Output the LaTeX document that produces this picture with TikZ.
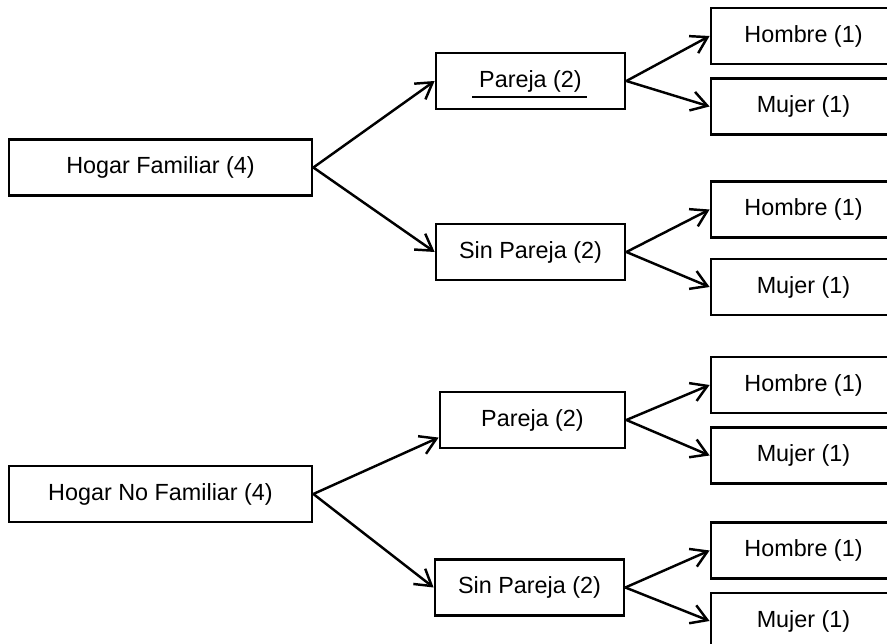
\documentclass[tikz,border=0pt]{standalone}
\usepackage{fontspec}
\setmainfont{Liberation Sans}
\usetikzlibrary{arrows.meta,calc}

\begin{document}
\begin{tikzpicture}[x=0.02cm,y=-0.02cm,
  caja/.style={draw,line width=1.6pt,inner sep=0pt,minimum height=1.12cm,font=\fontsize{13.3}{16}\selectfont},
  grande/.style={caja,minimum width=6.06cm},
  medio/.style={caja,minimum width=3.78cm},
  hoja/.style={caja,minimum width=3.70cm},
  flecha/.style={line width=1.4pt,-{Straight Barb[length=9pt,width=11pt]}}]
\clip (0,0) rectangle (887,644);

\node[grande] (hf) at (160.5,167.5) {Hogar Familiar (4)};
\node[grande] (hnf) at (160.5,494) {Hogar No Familiar (4)};

\node[medio] (pa1) at (530.5,81) {Pareja (2)};
\node[medio] (sp1) at (530.5,252) {Sin Pareja (2)};
\node[medio,minimum width=3.70cm] (pa2) at (532.5,420) {Pareja (2)};
\node[medio] (sp2) at (529.5,587.5) {Sin Pareja (2)};

\node[hoja] (h1) at (803.5,36) {Hombre (1)};
\node[hoja] (m1) at (803.5,106.5) {Mujer (1)};
\node[hoja] (h2) at (803.5,209.5) {Hombre (1)};
\node[hoja] (m2) at (803.5,287) {Mujer (1)};
\node[hoja] (h3) at (803.5,385) {Hombre (1)};
\node[hoja] (m3) at (803.5,455.5) {Mujer (1)};
\node[hoja] (h4) at (803.5,550.5) {Hombre (1)};
\node[hoja] (m4) at (803.5,621) {Mujer (1)};

\draw[line width=1pt] ($(pa1.center)+(-58.5,16)$) -- ($(pa1.center)+(56.5,16)$);

\draw[flecha] (hf.east) -- (pa1.west);
\draw[flecha] (hf.east) -- (sp1.west);
\draw[flecha] (hnf.east) -- ([yshift=-10]pa2.west);
\draw[flecha] (hnf.east) -- (sp2.west);

\draw[flecha] (pa1.east) -- (h1.west);
\draw[flecha] (pa1.east) -- (m1.west);
\draw[flecha] (sp1.east) -- (h2.west);
\draw[flecha] (sp1.east) -- (m2.west);
\draw[flecha] (pa2.east) -- (h3.west);
\draw[flecha] (pa2.east) -- (m3.west);
\draw[flecha] (sp2.east) -- (h4.west);
\draw[flecha] (sp2.east) -- (m4.west);

\end{tikzpicture}
\end{document}
